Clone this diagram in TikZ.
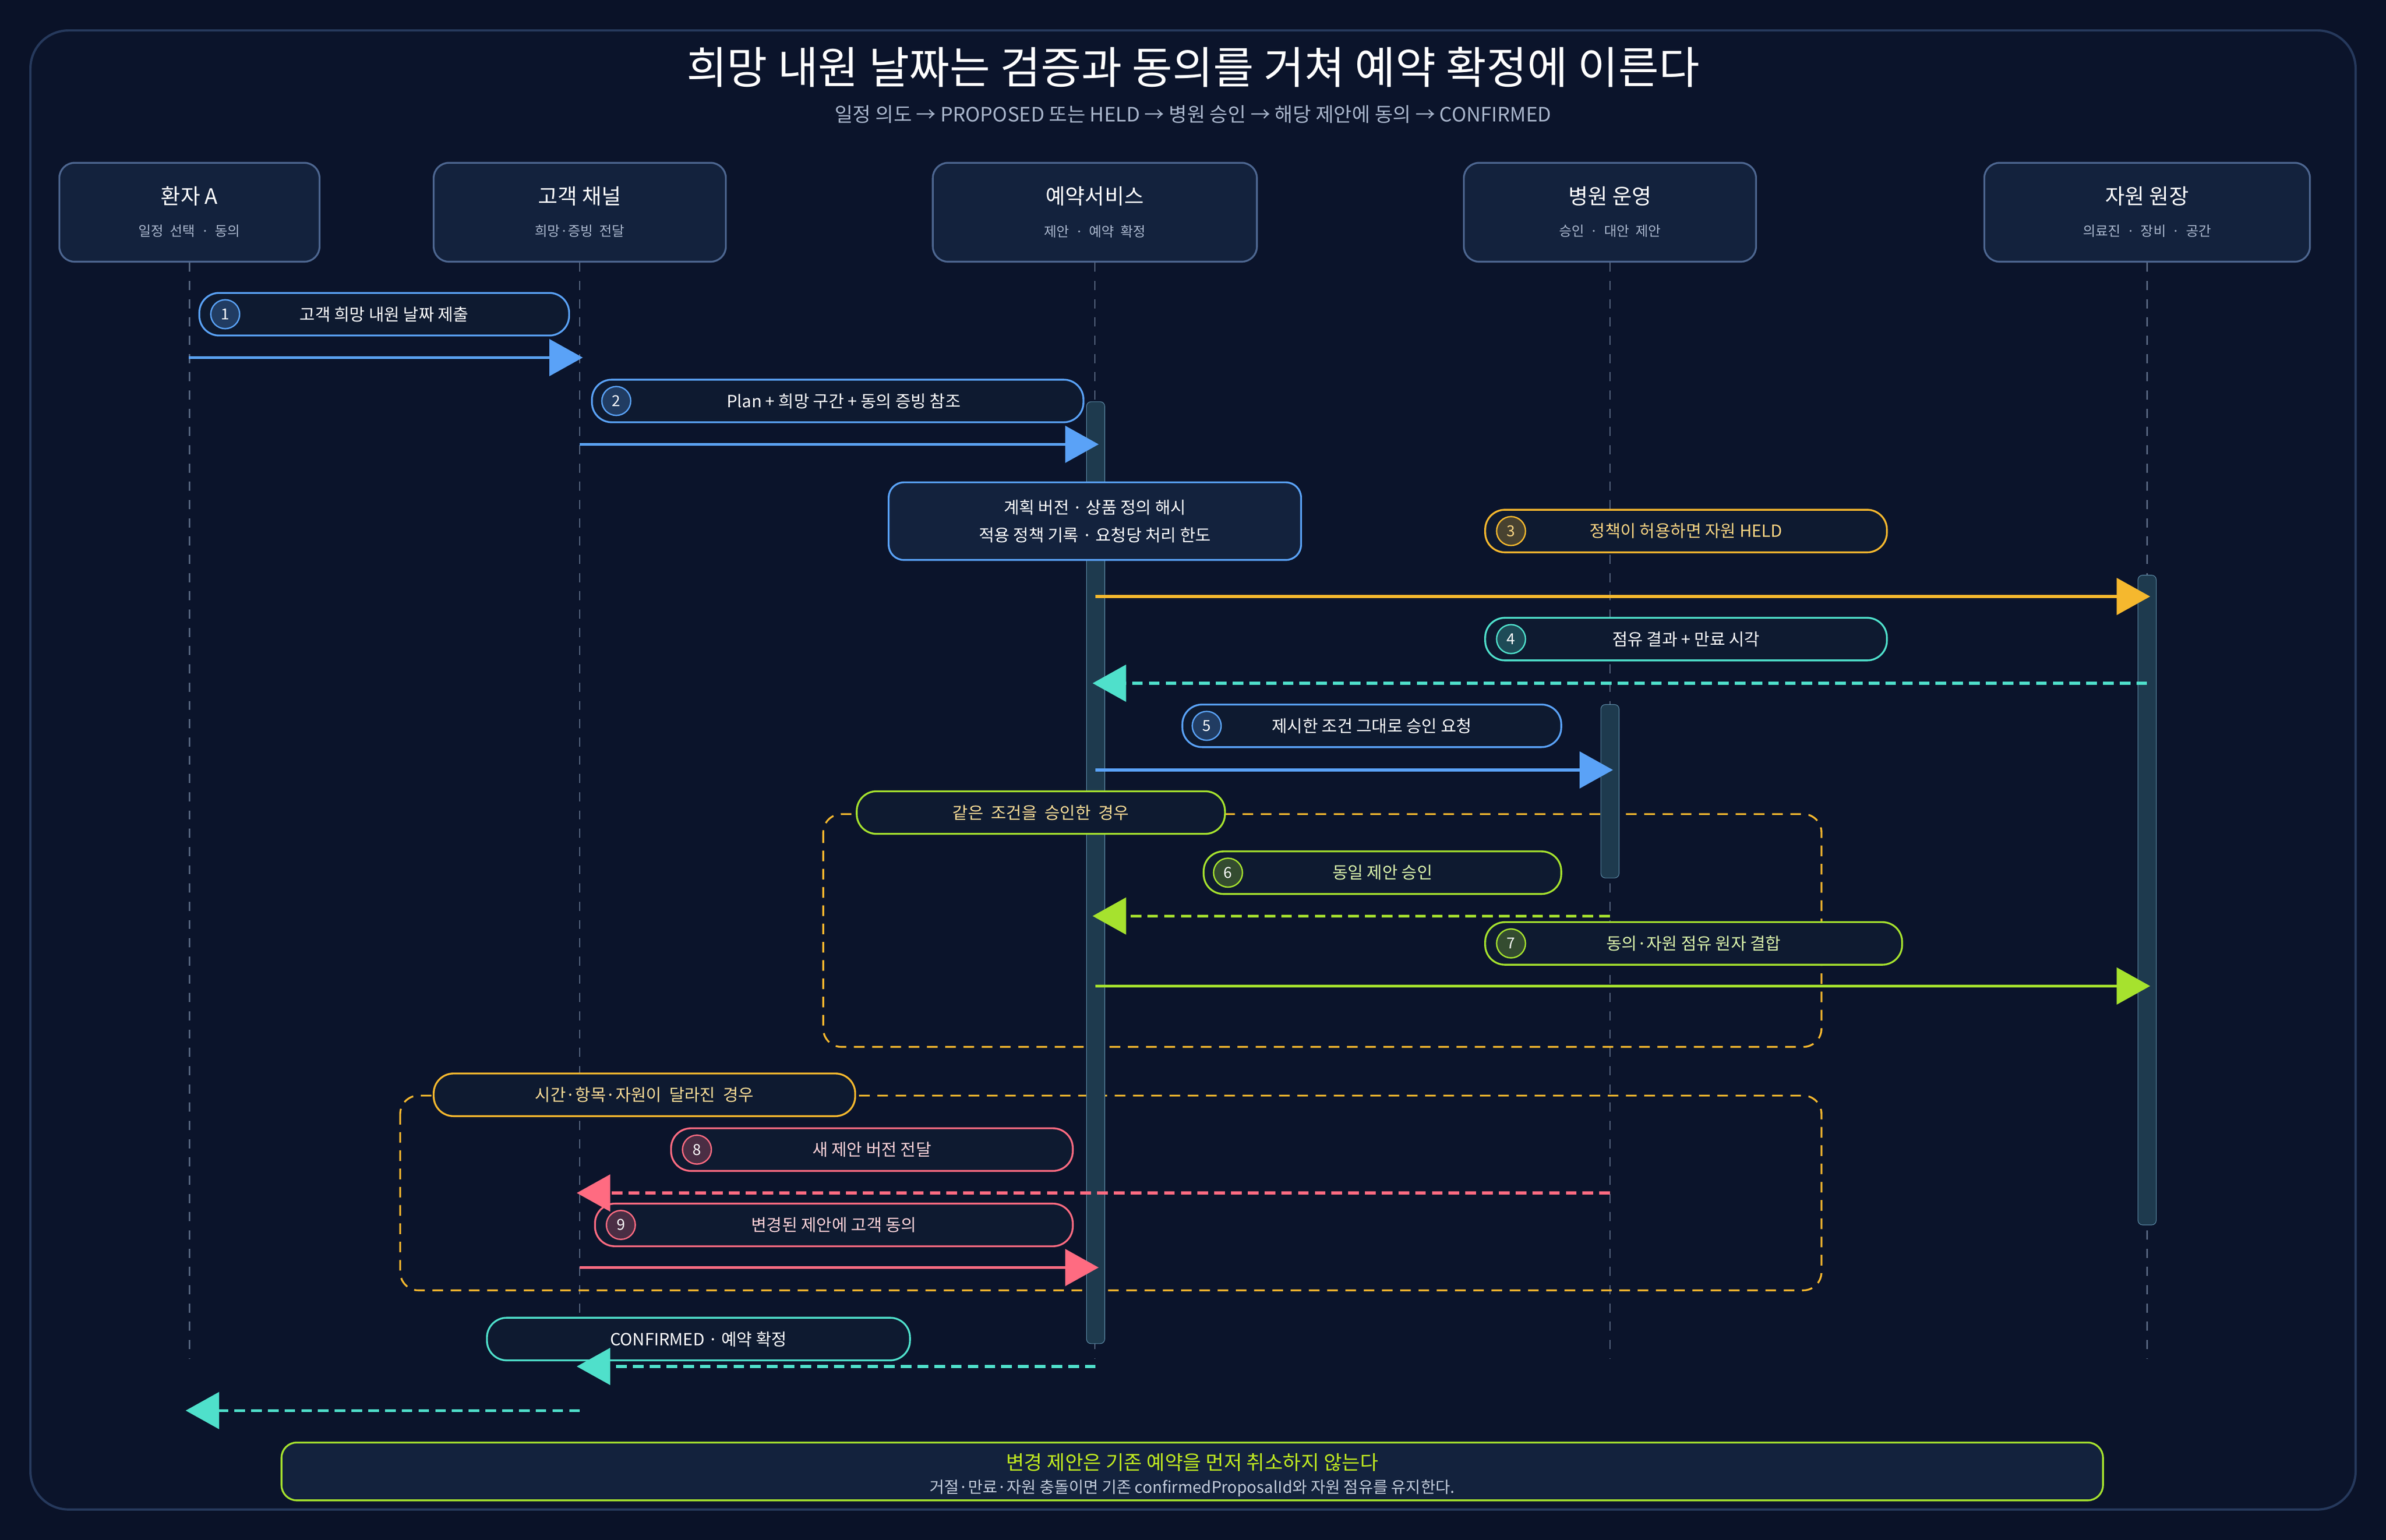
\documentclass[tikz,border=0pt]{standalone}
\usepackage{fontspec}
\setmainfont{Noto Sans CJK KR}
\usetikzlibrary{arrows.meta,positioning}
\definecolor{bgcol}{HTML}{0A1228}
\definecolor{framecol}{HTML}{26395C}
\definecolor{boxfill}{HTML}{13223D}
\definecolor{boxline}{HTML}{4D6690}
\definecolor{subtxt}{HTML}{A9B6CC}
\definecolor{lifecol}{HTML}{56657F}
\definecolor{cblue}{HTML}{5AA2F7}
\definecolor{corange}{HTML}{F5B82E}
\definecolor{cteal}{HTML}{4FE0CB}
\definecolor{clime}{HTML}{A6E22E}
\definecolor{cpink}{HTML}{FF6B81}
\definecolor{pillfill}{HTML}{0E1A30}
\definecolor{actfill}{HTML}{1E3A4E}
\definecolor{actline}{HTML}{5C8AA6}

\begin{document}
\begin{tikzpicture}[x=1pt,y=-1pt,
	lifebox/.style={draw=boxline, line width=1.2pt, fill=boxfill, rounded corners=10pt, minimum height=65pt, inner sep=0pt},
	pill/.style={draw=#1, line width=1.2pt, fill=pillfill, rounded corners=13pt, minimum height=28pt, inner sep=0pt, font=\fontsize{11}{13}\selectfont},
	badge/.style={circle, draw=#1, line width=0.9pt, fill=#1!25!pillfill, minimum size=19pt, inner sep=0pt, font=\fontsize{10}{12}\selectfont},
	act/.style={draw=actline, fill=actfill, rounded corners=3pt, minimum width=12pt, inner sep=0pt},
	life/.style={draw=lifecol, line width=0.9pt, dash pattern=on 6pt off 6pt},
	msg/.style={draw=#1, line width=2pt, -{Triangle[length=22pt,width=24pt]}},
	rmsg/.style={draw=#1, line width=2pt, dash pattern=on 7pt off 4pt, -{Triangle[length=22pt,width=24pt]}},
	fragm/.style={draw=corange, line width=1.2pt, dash pattern=on 7pt off 5pt, rounded corners=12pt}
	]
	
	%-----------------------
	% Background & frame
	%-----------------------
	\useasboundingbox (0,0) rectangle (1568,1012);
	\fill[bgcol] (0,0) rectangle (1568,1012);
	\draw[framecol, line width=1.5pt, fill=bgcol!85!boxfill, rounded corners=25pt] (20,20) rectangle (1548,992);
	
	\node[text=white, font=\fontsize{29}{32}\selectfont] (title) at (784,44) {희망 내원 날짜는 검증과 동의를 거쳐 예약 확정에 이른다};
	\node[text=subtxt, font=\fontsize{13}{15}\selectfont] (subtitle) at (784,75) {일정 의도 → PROPOSED 또는 HELD → 병원 승인 → 해당 제안에 동의 → CONFIRMED};
	
	%-----------------------
	% Lifeline heads
	%-----------------------
	\def\hend{893}
	\node[lifebox, minimum width=171pt] (A) at (124.5,139.5) {};
	\node[lifebox, minimum width=192pt] (B) at (381,139.5) {};
	\node[lifebox, minimum width=213pt] (C) at (719.5,139.5) {};
	\node[lifebox, minimum width=192pt] (D) at (1058,139.5) {};
	\node[lifebox, minimum width=214pt] (E) at (1411,139.5) {};
	
	\node[text=white, font=\fontsize{14}{16}\selectfont] (A-t) at (124.5,129) {환자 A};
	\node[text=subtxt, font=\fontsize{9}{11}\selectfont] (A-s) at (124.5,152) {일정\ \ 선택\ \ ·\ \ 동의};
	\node[text=white, font=\fontsize{14}{16}\selectfont] (B-t) at (381,129) {고객 채널};
	\node[text=subtxt, font=\fontsize{9}{11}\selectfont] (B-s) at (381,152) {희망·증빙\ \ 전달};
	\node[text=white, font=\fontsize{14}{16}\selectfont] (C-t) at (719.5,129) {예약서비스};
	\node[text=subtxt, font=\fontsize{9}{11}\selectfont] (C-s) at (719.5,152) {제안\ \ ·\ \ 예약\ \ 확정};
	\node[text=white, font=\fontsize{14}{16}\selectfont] (D-t) at (1058,129) {병원 운영};
	\node[text=subtxt, font=\fontsize{9}{11}\selectfont] (D-s) at (1058,152) {승인\ \ ·\ \ 대안\ \ 제안};
	\node[text=white, font=\fontsize{14}{16}\selectfont] (E-t) at (1411,129) {자원 원장};
	\node[text=subtxt, font=\fontsize{9}{11}\selectfont] (E-s) at (1411,152) {의료진\ \ ·\ \ 장비\ \ ·\ \ 공간};
	
	% lifelines
	\foreach \l in {A,B,C,D,E}
		\draw[life] (\l.south) -- (\l.south |- 0,\hend);
	
	%-----------------------
	% Fragments
	%-----------------------
	\draw[fragm] (541,535) rectangle (1197,688);
	\draw[fragm] (263,720) rectangle (1197,848);
	
	% activation bars
	\node[act, minimum height=619pt] (actC) at (720,573.5) {};
	\node[act, minimum height=114pt] (actD) at (1058,520) {};
	\node[act, minimum height=427pt] (actE) at (1411,591.5) {};
	
	%-----------------------
	% Message labels
	%-----------------------
	\node[pill=cblue, minimum width=243pt, text=white] (L1) at (252.5,206.5) {고객 희망 내원 날짜 제출};
	\node[badge=cblue, text=white] (n1) at (148,206.5) {1};
	\node[pill=cblue, minimum width=323pt, text=white] (L2) at (550.5,263.5) {\hspace*{8pt}Plan + 희망 구간 + 동의 증빙 참조};
	\node[badge=cblue, text=white] (n2) at (405,263.5) {2};
	\node[draw=cblue, line width=1.2pt, fill=boxfill, rounded corners=10pt, minimum width=271pt, minimum height=51pt, align=center, text=white, font=\fontsize{11}{18}\selectfont] (note) at (719.5,342.5) {계획 버전 · 상품 정의 해시\\적용 정책 기록 · 요청당 처리 한도};
	\node[pill=corange, minimum width=264pt, text=corange!60!white] (L3) at (1108,349) {정책이 허용하면 자원 HELD};
	\node[badge=corange, text=corange!60!white] (n3) at (993,349) {3};
	\node[pill=cteal, minimum width=264pt, text=white] (L4) at (1108,420) {점유 결과 + 만료 시각};
	\node[badge=cteal, text=white] (n4) at (993,420) {4};
	\node[pill=cblue, minimum width=249pt, text=white] (L5) at (901.5,477) {제시한 조건 그대로 승인 요청};
	\node[badge=cblue, text=white] (n5) at (793,477) {5};
	\node[pill=clime, minimum width=242pt, text=corange!50!white] (F1) at (684,534) {같은\ \ 조건을\ \ 승인한\ \ 경우};
	\node[pill=clime, minimum width=235pt, text=clime!40!white] (L6) at (908.5,573.5) {동일 제안 승인};
	\node[badge=clime, text=white] (n6) at (807,573.5) {6};
	\node[pill=clime, minimum width=274pt, text=clime!40!white] (L7) at (1113,620) {동의·자원 점유 원자 결합};
	\node[badge=clime, text=white] (n7) at (993,620) {7};
	\node[pill=corange, minimum width=277pt, text=corange!50!white] (F2) at (423.5,719.5) {시간·항목·자원이\ \ 달라진\ \ 경우};
	\node[pill=cpink, minimum width=264pt, text=cpink!30!white] (L8) at (573,755.5) {새 제안 버전 전달};
	\node[badge=cpink, text=white] (n8) at (458,755.5) {8};
	\node[pill=cpink, minimum width=314pt, text=cpink!30!white] (L9) at (548,805) {변경된 제안에 고객 동의};
	\node[badge=cpink, text=white] (n9) at (408,805) {9};
	\node[pill=cteal, minimum width=278pt, text=white] (L10) at (459,880) {CONFIRMED · 예약 확정};
	
	%-----------------------
	% Messages
	%-----------------------
	\coordinate (m1s) at (124,235);  \coordinate (m1e) at (383,235);
	\coordinate (m2s) at (381,292);  \coordinate (m2e) at (722,292);
	\coordinate (m3s) at (720,392);  \coordinate (m3e) at (1413,392);
	\coordinate (m4s) at (1411,449); \coordinate (m4e) at (718,449);
	\coordinate (m5s) at (720,506);  \coordinate (m5e) at (1060,506);
	\coordinate (m6s) at (1058,602); \coordinate (m6e) at (718,602);
	\coordinate (m7s) at (720,648);  \coordinate (m7e) at (1413,648);
	\coordinate (m8s) at (1058,784); \coordinate (m8e) at (379,784);
	\coordinate (m9s) at (381,833);  \coordinate (m9e) at (722,833);
	\coordinate (m10s) at (720,898); \coordinate (m10e) at (379,898);
	\coordinate (m11s) at (381,927); \coordinate (m11e) at (122,927);
	
	\draw[msg=cblue] (m1s) -- (m1e);
	\draw[msg=cblue] (m2s) -- (m2e);
	\draw[msg=corange] (m3s) -- (m3e);
	\draw[rmsg=cteal] (m4s) -- (m4e);
	\draw[msg=cblue] (m5s) -- (m5e);
	\draw[rmsg=clime] (m6s) -- (m6e);
	\draw[msg=clime] (m7s) -- (m7e);
	\draw[rmsg=cpink] (m8s) -- (m8e);
	\draw[msg=cpink] (m9s) -- (m9e);
	\draw[rmsg=cteal] (m10s) -- (m10e);
	\draw[rmsg=cteal] (m11s) -- (m11e);
	
	%-----------------------
	% Footer
	%-----------------------
	\node[draw=clime, line width=1.2pt, fill=boxfill, rounded corners=10pt, minimum width=1197pt, minimum height=38pt] (foot) at (783.5,967) {};
	\node[text=clime!70!yellow, font=\fontsize{13}{15}\selectfont] (foot-t) at (783.5,961) {변경 제안은 기존 예약을 먼저 취소하지 않는다};
	\node[text=subtxt!70!white, font=\fontsize{10.5}{12}\selectfont] (foot-s) at (783.5,978) {거절·만료·자원 충돌이면 기존 confirmedProposalId와 자원 점유를 유지한다.};
	
\end{tikzpicture}
\end{document}
